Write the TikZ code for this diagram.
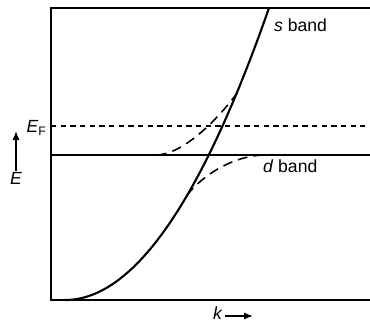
\documentclass[tikz,border=0pt]{standalone}
\usepackage{fontspec}
\setmainfont{Liberation Sans}
\usetikzlibrary{arrows.meta,positioning}
\tikzset{
  frame/.style={line width=1pt},
  sband/.style={line width=1.2pt},
  hybrid/.style={line width=0.9pt, dash pattern=on 5.5pt off 3.5pt},
  fermi/.style={line width=0.9pt, dash pattern=on 3pt off 2.5pt},
  lbl/.style={inner sep=1pt, font=\fontsize{10}{12}\selectfont},
  axarrow/.style={line width=0.8pt, -{Latex[length=5pt,width=4pt]}}
}
\begin{document}
\begin{tikzpicture}[x=0.02cm, y=0.02cm]
    \useasboundingbox (0,0) rectangle (370,321);

    % Frame (open on the right)
    \draw[frame] (370,313) -- (51,313) -- (51,21) -- (370,21);

    % Fermi level and d band level
    \draw[fermi] (51,195) -- (370,195);
    \draw[frame] (51,166) -- (370,166);

    % s band: free-electron parabola
    \draw[sband] plot[domain=65:269, samples=80] (\x, {21+292*((\x-65)/204)^2});

    % Hybridised bands (dashed)
    \draw[hybrid] (157,166) .. controls (182,167) and (215,198) .. (238,229);
    \draw[hybrid] (263,166) .. controls (235,165) and (205,148) .. (188,127);

    % Labels
    \node[lbl, anchor=base west] (sb) at (272,289) {\textit{s} band};
    \node[lbl, anchor=base west] (db) at (261,148) {\textit{d} band};
    \node[lbl, anchor=base east] (EF) at (49,188) {\textit{E}\textsubscript{F}};

    % Energy axis arrow
    \node[lbl, anchor=base] (E) at (16,136) {\textit{E}};
    \coordinate (Etip) at (16,190);
    \draw[axarrow] (E.north) -- (Etip);

    % Wave vector arrow
    \node[lbl, anchor=base] (k) at (218,1) {\textit{k}};
    \coordinate (ktip) at (253,5);
    \draw[axarrow] (k.east |- ktip) -- (ktip);
\end{tikzpicture}
\end{document}
